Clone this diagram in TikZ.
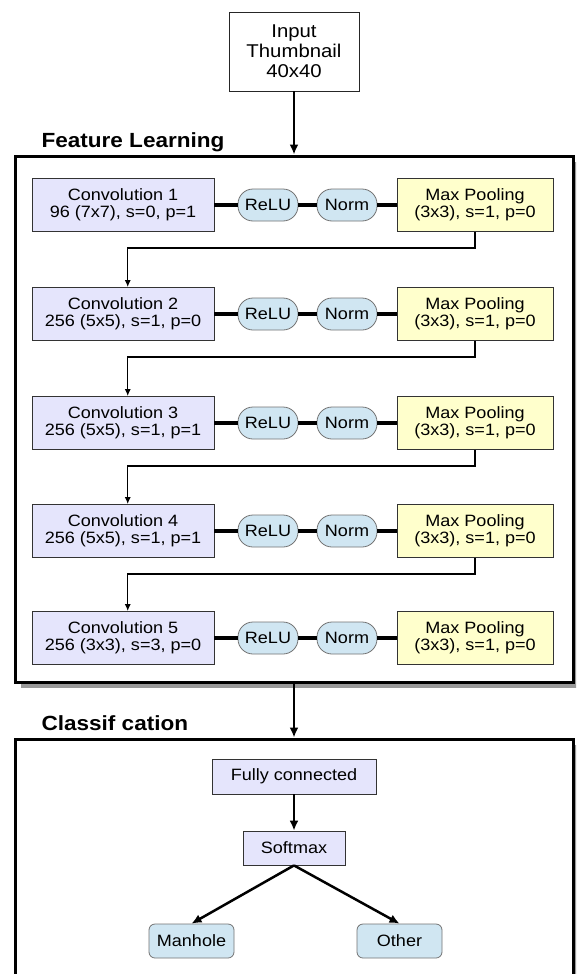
\documentclass[tikz,border=0pt]{standalone}
\usepackage{fontspec}
\setmainfont{Liberation Sans}[FakeStretch=1.1]
\usepackage{tikz}
\usetikzlibrary{arrows.meta,shadows}

\definecolor{convblue}{RGB}{229,229,252}
\definecolor{poolyellow}{RGB}{255,255,204}
\definecolor{actblue}{RGB}{208,230,242}

\tikzset{
  convbox/.style={rectangle, draw=black!80, line width=0.8pt, fill=convblue, inner sep=0pt,
    minimum width=182pt, minimum height=53pt, align=center, font=\fontsize{16.4}{16.5}\selectfont},
  poolbox/.style={convbox, fill=poolyellow, minimum width=156pt},
  actbox/.style={rectangle, rounded corners=15pt, draw=black!55, line width=0.8pt, fill=actblue,
    inner sep=0pt, minimum width=60pt, minimum height=32pt, font=\fontsize{16.4}{16.5}\selectfont},
  inbox/.style={rectangle, draw=black!85, line width=0.8pt, fill=white, inner sep=0pt,
    minimum width=130pt, minimum height=79pt, align=center, font=\fontsize{18.5}{20}\selectfont},
  panel/.style={rectangle, draw=black, line width=3pt, fill=white, inner sep=0pt,
    drop shadow={shadow xshift=6pt, shadow yshift=-6pt, fill=black!40, opacity=1}},
  heading/.style={anchor=base west, font=\bfseries\fontsize{20.5}{21}\selectfont},
  link/.style={line width=3.2pt},
  rowlink/.style={line width=1.3pt, -{Latex[length=7pt,width=6pt]}},
  flow/.style={line width=2.5pt, -{Latex[length=10pt,width=9pt]}}
}

\begin{document}
\begin{tikzpicture}[x=1pt, y=-1pt]
\clip (0,0) rectangle (576,974);

% input and the two panels
\node[inbox] (input) at (294,51.5) {Input\\Thumbnail\\40x40};
\node[heading] (featlabel) at (38,147) {Feature Learning};
\node[panel, minimum width=558pt, minimum height=526pt] (feat) at (294,419) {};
\node[heading] (clslabel) at (38,730) {Classif cation};
\node[panel, minimum width=558pt, minimum height=300pt] (cls) at (294,889) {};

% feature learning rows
\node[convbox] (conv1) at (123,205) {Convolution 1\\96 (7x7), s=0, p=1};
\node[actbox] (relu1) at (268,205) {ReLU};
\node[actbox] (norm1) at (347,205) {Norm};
\node[poolbox] (pool1) at (475,205) {Max Pooling\\(3x3), s=1, p=0};

\node[convbox] (conv2) at (123,314) {Convolution 2\\256 (5x5), s=1, p=0};
\node[actbox] (relu2) at (268,314) {ReLU};
\node[actbox] (norm2) at (347,314) {Norm};
\node[poolbox] (pool2) at (475,314) {Max Pooling\\(3x3), s=1, p=0};

\node[convbox] (conv3) at (123,423) {Convolution 3\\256 (5x5), s=1, p=1};
\node[actbox] (relu3) at (268,423) {ReLU};
\node[actbox] (norm3) at (347,423) {Norm};
\node[poolbox] (pool3) at (475,423) {Max Pooling\\(3x3), s=1, p=0};

\node[convbox] (conv4) at (123,531) {Convolution 4\\256 (5x5), s=1, p=1};
\node[actbox] (relu4) at (268,531) {ReLU};
\node[actbox] (norm4) at (347,531) {Norm};
\node[poolbox] (pool4) at (475,531) {Max Pooling\\(3x3), s=1, p=0};

\node[convbox] (conv5) at (123,638) {Convolution 5\\256 (3x3), s=3, p=0};
\node[actbox] (relu5) at (268,638) {ReLU};
\node[actbox] (norm5) at (347,638) {Norm};
\node[poolbox] (pool5) at (475,638) {Max Pooling\\(3x3), s=1, p=0};

\foreach \i in {1,...,5}
  \draw[link] (conv\i) -- (relu\i) (relu\i) -- (norm\i) (norm\i) -- (pool\i);

\draw[rowlink] (pool1.south) -- ++(0,16) -| (conv2.80);
\draw[rowlink] (pool2.south) -- ++(0,16) -| (conv3.80);
\draw[rowlink] (pool3.south) -- ++(0,16) -| (conv4.80);
\draw[rowlink] (pool4.south) -- ++(0,16) -| (conv5.80);

% classification
\node[convbox, minimum width=164pt, minimum height=35pt] (fc) at (294,776.5) {Fully connected};
\node[convbox, minimum width=102pt, minimum height=34pt] (softmax) at (294,848) {Softmax};
\node[actbox, rounded corners=6pt, minimum width=85pt, minimum height=34pt] (manhole) at (191.5,941) {Manhole};
\node[actbox, rounded corners=6pt, minimum width=85pt, minimum height=34pt] (other) at (399.5,941) {Other};

\draw[flow] (input.south) -- (feat.north);
\draw[flow] (feat.south) -- (cls.north);
\draw[flow] (fc) -- (softmax);
\draw[flow] (softmax.south) -- (manhole.north);
\draw[flow] (softmax.south) -- (other.north);
\end{tikzpicture}
\end{document}
